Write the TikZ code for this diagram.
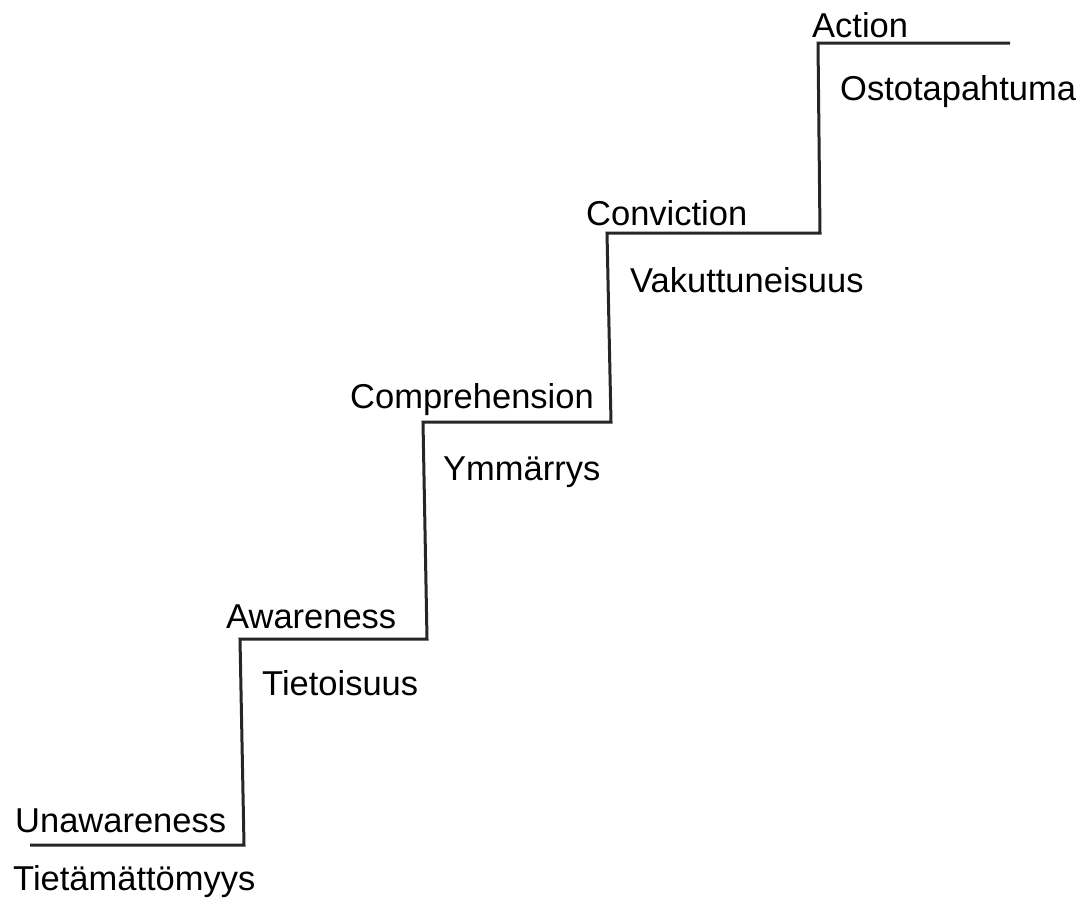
\documentclass[tikz,border=0pt]{standalone}
\usepackage{fontspec}
\setmainfont{Liberation Sans}
\usetikzlibrary{calc}

\begin{document}
\begin{tikzpicture}[
  x=1pt, y=-1pt,
  stair/.style={line width=3pt, line join=miter, black!85},
  lbl/.style={anchor=base west, inner sep=0pt, font=\fontsize{34.5}{40}\selectfont},
]

% page frame (pixel units, y pointing down)
\useasboundingbox (0,0) rectangle (1089,903);

% corner points of the staircase
\coordinate (S0) at (30, 845);
\coordinate (S1) at (244, 845);   % first riser, bottom
\coordinate (S2) at (240, 639);
\coordinate (S3) at (427, 639);
\coordinate (S4) at (423, 422);
\coordinate (S5) at (611, 422);
\coordinate (S6) at (607, 233);
\coordinate (S7) at (820, 233);
\coordinate (S8) at (818, 43);
\coordinate (S9) at (1010, 43);   % top step, right end

% the stairs
\draw[stair] (S0) -- (S1) -- (S2) -- (S3) -- (S4) -- (S5) -- (S6) -- (S7) -- (S8) -- (S9);

% english stage names (above each step)
\node[lbl] (unaw) at (15, 832)  {Unawareness};
\node[lbl] (awar) at (226, 628) {Awareness};
\node[lbl] (comp) at (350, 408) {Comprehension};
\node[lbl] (conv) at (586, 225) {Conviction};
\node[lbl] (actn) at (812, 37)  {Action};

% finnish names (below each step)
\node[lbl] (tiet) at (13, 890)  {Tietämättömyys};
\node[lbl] (tois) at (262, 695) {Tietoisuus};
\node[lbl] (ymma) at (443, 480) {Ymmärrys};
\node[lbl] (vaku) at (630, 292) {Vakuttuneisuus};
\node[lbl] (osto) at (840, 100) {Ostotapahtuma};

\end{tikzpicture}
\end{document}
